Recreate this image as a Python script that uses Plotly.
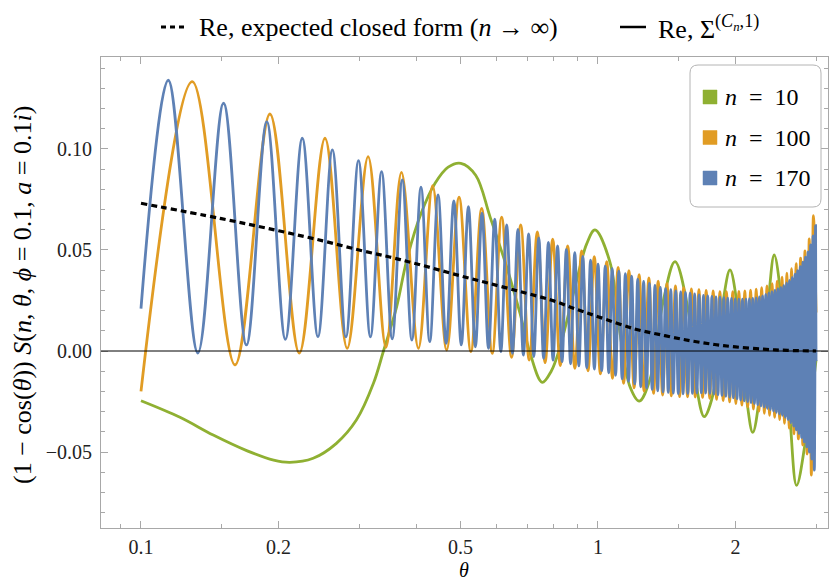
import plotly.graph_objects as go

# ---- data (theta, value at local extrema) ----
GREEN_THETA = [0.1, 0.1217, 0.1439, 0.1703, 0.1951, 0.2117, 0.2381, 0.2677, 0.296, 0.3226,
               0.3393, 0.3627, 0.3815, 0.41, 0.44, 0.47, 0.501, 0.54, 0.5803, 0.631,
               0.675, 0.71, 0.755, 0.79, 0.826, 0.898, 0.9446, 0.985, 1.062, 1.117,
               1.175, 1.231, 1.3, 1.39, 1.474, 1.576, 1.644, 1.708, 1.80, 1.88,
               1.945, 2.024, 2.115, 2.181, 2.262, 2.36, 2.43, 2.52, 2.63, 2.72,
               2.86, 3.0]
GREEN_VALUE = [-0.0246, -0.0328, -0.0416, -0.0493, -0.054, -0.0551, -0.0531, -0.0457, -0.0342, -0.016,
               0.0, 0.022, 0.045, 0.068, 0.083, 0.091, 0.0929, 0.087, 0.0665, 0.0417,
               0.0187, -0.001, -0.0155, -0.010, 0.002, 0.035, 0.053, 0.0599, 0.044, 0.009,
               -0.0177, -0.0248, -0.014, 0.025, 0.0442, 0.020, -0.018, -0.0325, -0.018, 0.025,
               0.0401, 0.020, -0.024, -0.0403, -0.021, 0.025, 0.0475, 0.025, -0.0325, -0.0665,
               -0.041, -0.0045]

ORANGE_THETA = [0.1, 0.1295, 0.1606, 0.1915, 0.222, 0.2527, 0.2826, 0.314, 0.3436, 0.3715,
                0.4046, 0.4346, 0.4666, 0.4966, 0.527, 0.5566, 0.587, 0.6155, 0.647, 0.6774,
                0.707, 0.7367, 0.766, 0.7959, 0.827, 0.8584, 0.890, 0.921, 0.951, 0.9815,
                1.0124, 1.045, 1.0759, 1.1068, 1.1377, 1.1686, 1.1995, 1.2304, 1.2613, 1.2922,
                1.3231, 1.354, 1.3849, 1.4158, 1.4467, 1.4776, 1.5085, 1.5394, 1.5703, 1.6012,
                1.6321, 1.663, 1.6939, 1.7248, 1.7557, 1.7866, 1.8175, 1.8484, 1.8793, 1.9102,
                1.9411, 1.972, 2.0029, 2.0338, 2.0647, 2.0956, 2.1265, 2.1574, 2.1883, 2.2192,
                2.2501, 2.281, 2.3119, 2.3428, 2.3737, 2.4046, 2.4355, 2.4664, 2.4973, 2.5282,
                2.5591, 2.59, 2.6209, 2.6518, 2.6827, 2.7136, 2.7445, 2.7754, 2.8063, 2.8372,
                2.8681, 2.899, 2.9299, 2.9608, 3.0]
ORANGE_VALUE = [-0.020, 0.1333, -0.0069, 0.1173, -0.0011, 0.1053, 0.0013, 0.0962, 0.0018, 0.0884,
                0.0013, 0.0818, 0.0005, 0.0761, -0.0003, 0.0706, -0.0012, 0.0662, -0.0031, 0.0624,
                -0.0045, 0.059, -0.0058, 0.0553, -0.0072, 0.052, -0.0086, 0.0495, -0.0098, 0.0467,
                -0.0113, 0.0442, -0.0135, 0.0414, -0.0160, 0.0398, -0.0182, 0.0378, -0.0198, 0.0362,
                -0.0210, 0.0346, -0.0218, 0.0334, -0.0222, 0.0322, -0.0226, 0.0313, -0.0227, 0.0307,
                -0.0228, 0.0303, -0.0230, 0.0300, -0.0234, 0.0297, -0.0239, 0.0294, -0.0245, 0.0294,
                -0.0252, 0.0294, -0.0260, 0.0295, -0.0268, 0.0297, -0.0277, 0.0301, -0.0287, 0.0306,
                -0.0298, 0.0313, -0.0308, 0.0322, -0.0318, 0.0333, -0.0328, 0.0346, -0.0340, 0.0365,
                -0.0358, 0.0385, -0.0382, 0.0408, -0.0410, 0.0432, -0.0435, 0.0460, -0.0465, 0.0495,
                -0.0510, 0.0555, -0.0614, 0.067, 0.019]

BLUE_THETA = [0.1, 0.1147, 0.1332, 0.1516, 0.1701, 0.1885, 0.2070, 0.2254, 0.2439, 0.2623,
              0.2808, 0.2992, 0.3177, 0.3361, 0.3546, 0.3730, 0.3915, 0.4099, 0.4284, 0.4468,
              0.4653, 0.4837, 0.5022, 0.5206, 0.5391, 0.5575, 0.5760, 0.5944, 0.6129, 0.6313,
              0.6498, 0.6682, 0.6867, 0.7051, 0.7236, 0.7420, 0.7605, 0.7789, 0.7974, 0.8158,
              0.8343, 0.8527, 0.8712, 0.8896, 0.9081, 0.9265, 0.9450, 0.9634, 0.9819, 1.0003,
              1.0188, 1.0372, 1.0557, 1.0741, 1.0926, 1.1110, 1.1295, 1.1479, 1.1664, 1.1848,
              1.2033, 1.2217, 1.2402, 1.2586, 1.2771, 1.2955, 1.3140, 1.3324, 1.3509, 1.3693,
              1.3878, 1.4062, 1.4247, 1.4431, 1.4616, 1.4800, 1.4985, 1.5169, 1.5354, 1.5538,
              1.5723, 1.5907, 1.6092, 1.6276, 1.6461, 1.6645, 1.6830, 1.7014, 1.7199, 1.7383,
              1.7568, 1.7752, 1.7937, 1.8121, 1.8306, 1.8490, 1.8675, 1.8859, 1.9044, 1.9228,
              1.9413, 1.9597, 1.9782, 1.9966, 2.0151, 2.0335, 2.0520, 2.0704, 2.0889, 2.1073,
              2.1258, 2.1442, 2.1627, 2.1811, 2.1996, 2.2180, 2.2365, 2.2549, 2.2734, 2.2918,
              2.3103, 2.3287, 2.3472, 2.3656, 2.3841, 2.4025, 2.4210, 2.4394, 2.4579, 2.4763,
              2.4948, 2.5132, 2.5317, 2.5501, 2.5686, 2.5870, 2.6055, 2.6239, 2.6424, 2.6608,
              2.6793, 2.6977, 2.7162, 2.7346, 2.7531, 2.7715, 2.7900, 2.8084, 2.8269, 2.8453,
              2.8638, 2.8822, 2.9007, 2.9191, 2.9376, 2.9560, 2.9745, 2.9929, 3.0]
BLUE_VALUE = [0.021, 0.134, -0.001, 0.1226, 0.003, 0.1135, 0.0058, 0.1053, 0.0071, 0.0995,
              0.0070, 0.0942, 0.0070, 0.0888, 0.0060, 0.0847, 0.0054, 0.0811, 0.0046, 0.0772,
              0.0038, 0.0743, 0.0030, 0.0714, 0.0021, 0.0682, 0.0013, 0.0652, -0.0003, 0.0624,
              -0.0012, 0.0602, -0.0020, 0.0580, -0.0028, 0.0560, -0.0036, 0.0538, -0.0045, 0.0520,
              -0.0053, 0.0503, -0.0063, 0.0487, -0.0074, 0.0468, -0.0083, 0.0450, -0.0090, 0.0430,
              -0.0097, 0.0420, -0.0108, 0.0408, -0.0120, 0.0395, -0.0138, 0.0383, -0.0150, 0.0370,
              -0.0163, 0.0356, -0.0177, 0.0345, -0.0183, 0.0335, -0.0190, 0.0325, -0.0197, 0.0315,
              -0.0202, 0.0309, -0.0205, 0.0303, -0.0208, 0.0297, -0.0211, 0.0293, -0.0212, 0.0290,
              -0.0211, 0.0286, -0.0210, 0.0282, -0.0208, 0.0278, -0.0207, 0.0275, -0.0208, 0.0273,
              -0.0210, 0.0270, -0.0213, 0.0268, -0.0216, 0.0266, -0.0220, 0.0264, -0.0224, 0.0262,
              -0.0228, 0.0260, -0.0232, 0.0258, -0.0237, 0.0257, -0.0243, 0.0257, -0.0247, 0.0257,
              -0.0251, 0.0258, -0.0255, 0.0260, -0.0260, 0.0263, -0.0266, 0.0268, -0.0272, 0.0273,
              -0.0278, 0.0280, -0.0284, 0.0287, -0.0290, 0.0294, -0.0297, 0.0301, -0.0304, 0.0308,
              -0.0311, 0.0315, -0.0318, 0.0325, -0.0328, 0.0337, -0.0340, 0.0350, -0.0355, 0.0364,
              -0.0372, 0.0380, -0.0390, 0.0398, -0.0408, 0.0418, -0.0428, 0.0440, -0.0450, 0.0464,
              -0.0474, 0.0490, -0.0500, 0.0525, -0.0535, 0.0570, -0.0590, 0.0620, -0.005]

CLOSED_THETA = [0.1, 0.15, 0.2, 0.25, 0.3, 0.35, 0.4, 0.5, 0.6, 0.7,
                0.8, 0.9, 1.0, 1.2, 1.4, 1.6, 1.8, 2.0, 2.3, 2.6, 3.0]
CLOSED_VALUE = [0.0731, 0.0655, 0.0595, 0.0545, 0.050, 0.0465, 0.0432, 0.0372, 0.0325, 0.0285,
                0.0248, 0.0205, 0.0170, 0.0110, 0.0076, 0.0050, 0.0032, 0.0020, 0.0009, 0.0003, 0.0]

SERIES_NAMES = ["<i>n</i>\u2002=\u200210", "<i>n</i>\u2002=\u2002100", "<i>n</i>\u2002=\u2002170"]
SERIES_COLORS = ["#8FB032", "#E19C24", "#5E81B5"]

X_TICKS = [0.1, 0.2, 0.5, 1, 2]
X_TICK_TEXT = ["0.1", "0.2", "0.5", "1", "2"]
X_MINOR = [0.09, 0.15, 0.3, 0.4, 0.6, 0.7, 0.8, 0.9, 1.5, 3]
Y_TICKS = [-0.05, 0.0, 0.05, 0.10]
Y_TICK_TEXT = ["\u22120.05", "0.00", "0.05", "0.10"]
Y_MINOR = [v / 100 for v in range(-8, 15)]

FONT = "Liberation Serif"
FRAME = "#a8a8a8"

# plot frame in pixels
L, R, T, B = 101, 828, 57, 528


def px(x):
    return (x - L) / (R - L)


def py(y):
    return (B - y) / (B - T)


fig = go.Figure()
for th, val, col in [(GREEN_THETA, GREEN_VALUE, SERIES_COLORS[0]),
                     (ORANGE_THETA, ORANGE_VALUE, SERIES_COLORS[1]),
                     (BLUE_THETA, BLUE_VALUE, SERIES_COLORS[2])]:
    fig.add_trace(go.Scatter(x=th, y=val, mode="lines",
                             line=dict(color=col, width=2.8, shape="spline", smoothing=1.0),
                             hoverinfo="skip"))
fig.add_trace(go.Scatter(x=CLOSED_THETA, y=CLOSED_VALUE, mode="lines",
                         line=dict(color="black", width=3.2, dash="6px,4px", shape="spline"),
                         hoverinfo="skip"))

shapes = [
    # y = 0 axis drawn over the curves
    dict(type="line", xref="paper", yref="y", x0=0, x1=1, y0=0, y1=0,
         line=dict(color="black", width=1), layer="above"),
    # top legend samples
    dict(type="line", xref="paper", yref="paper", x0=px(161), x1=px(188), y0=py(27), y1=py(27),
         line=dict(color="black", width=3, dash="5px,4px")),
    dict(type="line", xref="paper", yref="paper", x0=px(620), x1=px(646), y0=py(27), y1=py(27),
         line=dict(color="black", width=2.5)),
]

# rounded legend box
bx0, bx1, by0, by1, rad = px(690), px(821), py(207), py(65), 8
rx, ry = rad / (R - L), rad / (B - T)
path = (f"M {bx0 + rx},{by0} L {bx1 - rx},{by0} Q {bx1},{by0} {bx1},{by0 + ry} "
        f"L {bx1},{by1 - ry} Q {bx1},{by1} {bx1 - rx},{by1} L {bx0 + rx},{by1} "
        f"Q {bx0},{by1} {bx0},{by1 - ry} L {bx0},{by0 + ry} Q {bx0},{by0} {bx0 + rx},{by0} Z")
shapes.append(dict(type="path", xref="paper", yref="paper", path=path,
                   line=dict(color="#b4b4b4", width=1), fillcolor="white", layer="above"))

annotations = [
    dict(xref="paper", yref="paper", x=px(197), y=py(27), xanchor="left", yanchor="middle",
         text="Re, expected closed form (<i>n</i> \u2192 \u221e)", showarrow=False,
         font=dict(family=FONT, size=26, color="black")),
    dict(xref="paper", yref="paper", x=px(656), y=py(27), xanchor="left", yanchor="middle",
         text="Re, \u03a3<sup>(<i>C<sub>n</sub></i>,1)</sup>", showarrow=False,
         font=dict(family=FONT, size=26, color="black")),
    dict(xref="paper", yref="paper", x=px(464), y=py(570), xanchor="center", yanchor="middle",
         text="<i>\u03b8</i>", showarrow=False, font=dict(family=FONT, size=20, color="black")),
    dict(xref="paper", yref="paper", x=px(22), y=py(295), xanchor="center", yanchor="middle",
         textangle=-90, showarrow=False, font=dict(family=FONT, size=26, color="black"),
         text="(1 \u2212 cos(<i>\u03b8</i>)) <i>S</i>(<i>n</i>, <i>\u03b8</i>, <i>\u03d5</i> = 0.1, "
              "<i>a</i> = 0.1<i>i</i>)"),
]

for i, (name, col) in enumerate(zip(SERIES_NAMES, SERIES_COLORS)):
    cy = 97 + 40.5 * i
    shapes.append(dict(type="rect", xref="paper", yref="paper", layer="above",
                       x0=px(703), x1=px(717), y0=py(cy + 7), y1=py(cy - 7),
                       fillcolor=col, line=dict(color=col, width=0.5)))
    annotations.append(dict(xref="paper", yref="paper", x=px(723), y=py(cy), xanchor="left",
                            yanchor="middle", text=name, showarrow=False,
                            font=dict(family=FONT, size=24, color="black")))

fig.update_layout(
    width=830, height=582,
    margin=dict(l=L, r=830 - R, t=T, b=582 - B, autoexpand=False),
    plot_bgcolor="white", paper_bgcolor="white", showlegend=False,
    font=dict(family=FONT, size=20, color="#222"),
    shapes=shapes, annotations=annotations,
)
fig.update_xaxes(type="log", range=[-1.0875, 0.5033], showgrid=False, zeroline=False,
                 automargin=False,
                 showline=True, linecolor=FRAME, linewidth=1, mirror="ticks",
                 ticks="inside", ticklen=7, tickcolor=FRAME, tickwidth=1,
                 tickvals=X_TICKS, ticktext=X_TICK_TEXT, ticklabelstandoff=1,
                 minor=dict(tickvals=X_MINOR, ticks="inside", ticklen=4, tickcolor=FRAME))
fig.update_yaxes(range=[-0.0876, 0.1455], showgrid=False, zeroline=False,
                 automargin=False,
                 showline=True, linecolor=FRAME, linewidth=1, mirror="ticks",
                 ticks="inside", ticklen=7, tickcolor=FRAME, tickwidth=1,
                 tickvals=Y_TICKS, ticktext=Y_TICK_TEXT, ticklabelstandoff=4,
                 minor=dict(tickvals=Y_MINOR, ticks="inside", ticklen=4, tickcolor=FRAME))

# page body has a default margin; drop it so the figure sits at the window origin
fig.write_html("out.html", config={"displayModeBar": False},
               post_script="document.body.style.margin = '0';")
